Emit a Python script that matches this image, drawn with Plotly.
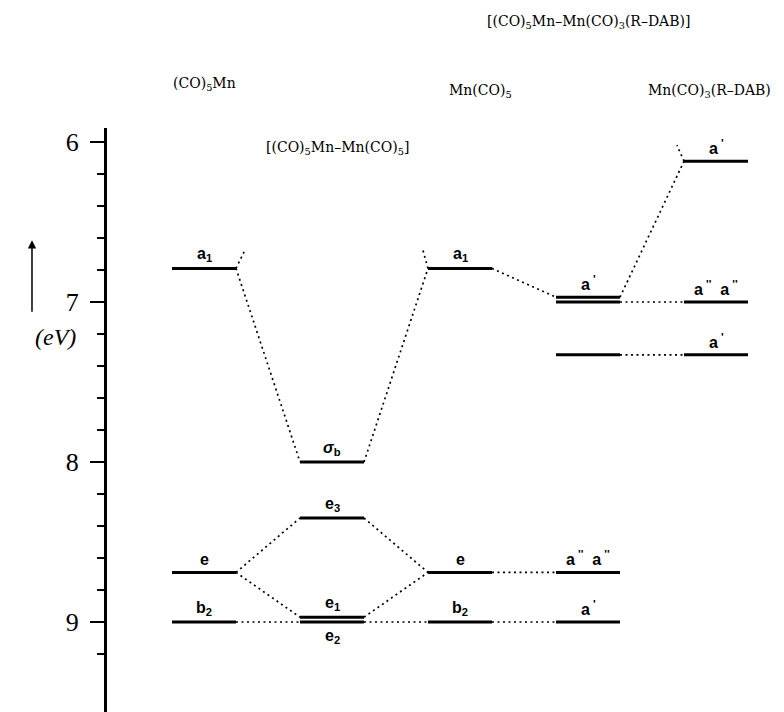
import plotly.graph_objects as go

# ---------------- data ----------------
columns = ["(CO)<sub>5</sub>Mn", "[(CO)<sub>5</sub>Mn\u2013Mn(CO)<sub>5</sub>]", "Mn(CO)<sub>5</sub>",
           "[(CO)<sub>5</sub>Mn\u2013Mn(CO)<sub>3</sub>(R\u2013DAB)]", "Mn(CO)<sub>3</sub>(R\u2013DAB)"]

level_col = [0, 0, 0, 1, 1, 1, 1, 2, 2, 2, 3, 3, 3, 3, 3, 4, 4, 4]
level_E = [6.79, 8.69, 9.00, 8.00, 8.35, 8.97, 9.00, 6.79, 8.69, 9.00,
           6.97, 7.00, 7.33, 8.69, 9.00, 6.12, 7.00, 7.33]
level_label = ["a<sub>1</sub>", "e", "b<sub>2</sub>", "<i>\u03c3</i><sub>b</sub>", "e<sub>3</sub>",
               "e<sub>1</sub>", "e<sub>2</sub>", "a<sub>1</sub>", "e", "b<sub>2</sub>",
               "a<sup> '</sup>", "", "", "a<sup> ''</sup>  a<sup> ''</sup>", "a<sup> '</sup>",
               "a<sup> '</sup>", "a<sup> ''</sup>  a<sup> ''</sup>", "a<sup> '</sup>"]
label_below = [6]  # e2 label sits under its level

# correlation lines: (from level, to level)
conn_from = [0, 3, 1, 1, 4, 5, 2, 6, 7, 8, 9, 10, 11, 12]
conn_to = [3, 7, 4, 5, 8, 8, 6, 9, 10, 13, 14, 15, 16, 17]

# short stubs to off-scale partners: (level, side, end energy)
stub_level = [0, 7, 15]
stub_side = [1, -1, -1]
stub_E = [6.675, 6.675, 6.02]

y_ticks = [6, 7, 8, 9]
y_minor = [6.2, 6.4, 6.6, 6.8, 7.2, 7.4, 7.6, 7.8, 8.2, 8.4, 8.6, 8.8, 9.2]

# ---------------- figure ----------------
HW = 0.25  # half width of a level bar (column units)
fig = go.Figure()

DOT = dict(color="black", width=1.7, dash="2px,3.5px")

for a, b in zip(conn_from, conn_to):
    fig.add_trace(go.Scatter(
        x=[level_col[a] + HW, level_col[b] - HW], y=[level_E[a], level_E[b]],
        mode="lines", line=DOT, hoverinfo="skip", showlegend=False))

stub_dx = [0.07, 0.04, 0.055]
for lv, sd, e, dx in zip(stub_level, stub_side, stub_E, stub_dx):
    x0 = level_col[lv] + sd * HW
    fig.add_trace(go.Scatter(
        x=[x0, x0 + sd * dx], y=[level_E[lv], e],
        mode="lines", line=DOT, hoverinfo="skip", showlegend=False))

for c, e in zip(level_col, level_E):
    fig.add_trace(go.Scatter(
        x=[c - HW, c + HW], y=[e, e], mode="lines",
        line=dict(color="black", width=3), hoverinfo="skip", showlegend=False))

annotations = []
for i, (c, e, lab) in enumerate(zip(level_col, level_E, level_label)):
    if not lab:
        continue
    below = i in label_below
    annotations.append(dict(
        x=c, y=e, xref="x", yref="y", text="<b>" + lab + "</b>", showarrow=False,
        yanchor="top" if below else "bottom", yshift=-3 if below else 2,
        font=dict(family="Liberation Sans", size=16, color="black")))

# column titles (x = column, y in paper units)
title_x = [0, 1.04, 2.16, 3.0, 3.95]
title_y = [1.094, 0.985, 1.082, 1.20, 1.082]
for t, x, y in zip(columns, title_x, title_y):
    annotations.append(dict(
        x=x, y=y, xref="x", yref="paper", text=t, showarrow=False,
        font=dict(family="DejaVu Serif", size=14, color="black")))

annotations.append(dict(x=-0.1108, y=0.808, xref="paper", yref="paper", text="",
                        showarrow=True, ax=0, ay=73, arrowhead=2, arrowsize=1.1,
                        arrowwidth=1.5, arrowcolor="black"))
annotations.append(dict(x=-0.1093, y=0.642, xref="paper", yref="paper", text="<i>(eV)</i>",
                        showarrow=False,
                        font=dict(family="Liberation Serif", size=24, color="black")))

# the page adds an 8 px body margin, so the figure is 8 px smaller and margins shifted
fig.update_layout(
    width=776, height=704,
    margin=dict(l=99, r=0, t=120, b=0),
    paper_bgcolor="white", plot_bgcolor="white",
    showlegend=False,
    annotations=annotations,
    xaxis=dict(range=[-0.7578, 4.53125], visible=False, fixedrange=True),
    yaxis=dict(range=[9.5625, 5.9125], tickvals=y_ticks, ticktext=[str(v) for v in y_ticks],
               showgrid=False, zeroline=False, showline=True, linewidth=3, linecolor="black",
               ticks="outside", ticklen=14, tickwidth=2, tickcolor="black",
               ticklabelstandoff=6,
               tickfont=dict(family="Liberation Serif", size=26, color="black"),
               minor=dict(tickvals=y_minor, ticks="outside", ticklen=7, tickwidth=1.5,
                          tickcolor="black", showgrid=False)),
)

fig.write_html("out.html")
